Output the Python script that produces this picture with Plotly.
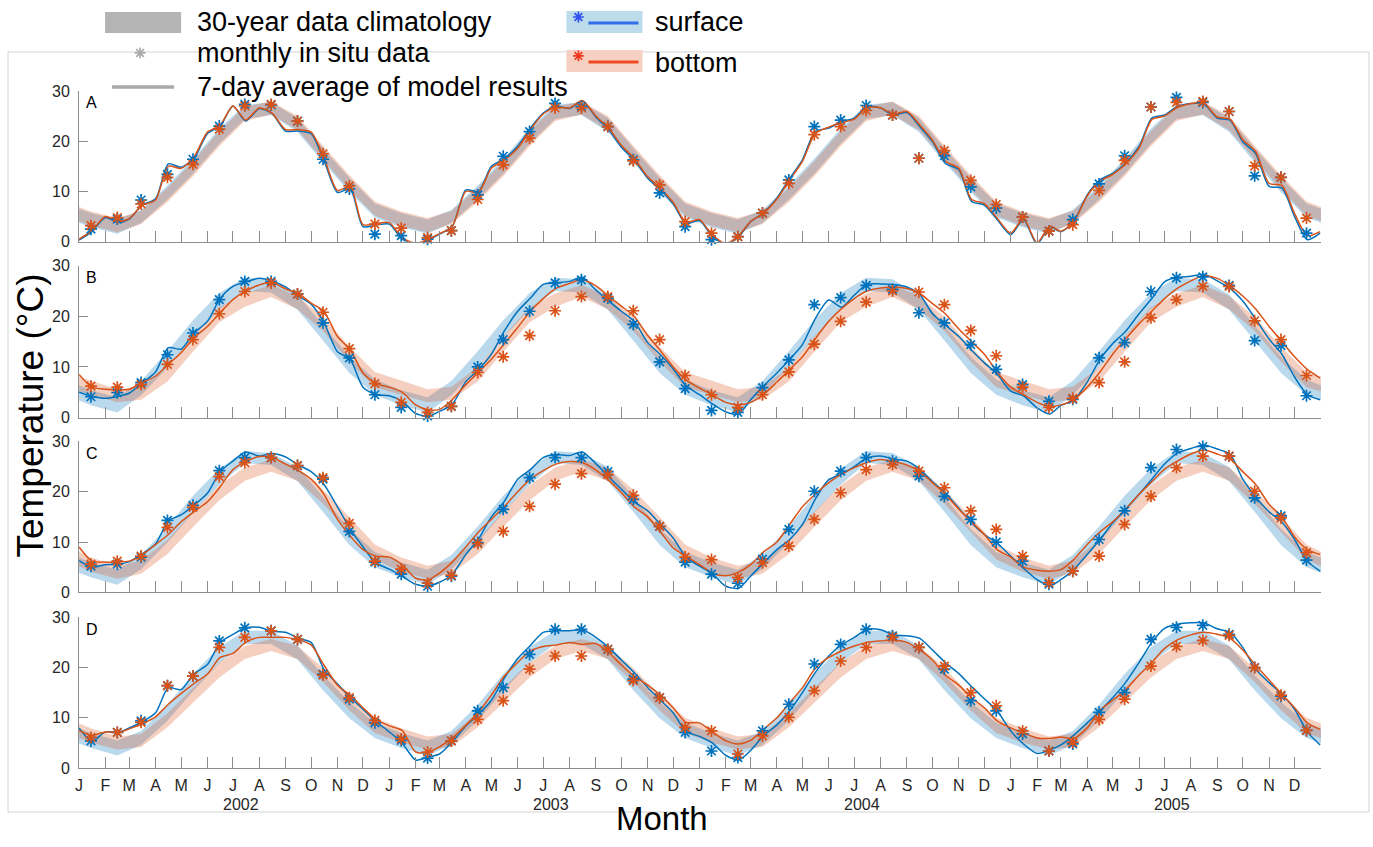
import pandas as pd
import plotly.graph_objects as go

W, H = 1373, 847

# ---------------- data ----------------
# 7-day averaged model results, sampled on the 1st and 16th of each month (2002-2005) + 31 Dec 2005
A_surf = [0.3, 2.0, 4.8, 3.8, 4.5, 7.3, 8.5, 15.5, 14.8, 16.5, 21.5, 23.0, 27.0, 24.0, 26.5, 25.5, 22.0, 22.0, 21.5, 16.2, 9.8, 10.5, 3.0, 3.3,
          3.5, 0.5, -0.5, 0.3, 1.5, 3.0, 10.3, 10.0, 15.0, 16.5, 19.0, 22.6, 25.6, 27.0, 26.5, 28.0, 24.8, 22.3, 18.8, 16.3, 12.6, 10.3, 7.5, 3.6,
          4.2, 1.0, -0.5, 1.0, 4.0, 5.7, 8.7, 12.6, 16.3, 21.9, 22.6, 23.9, 24.6, 26.9, 26.6, 25.2, 25.7, 22.9, 19.9, 15.6, 14.3, 8.0, 7.3, 4.4,
          1.4, 4.4, -0.5, 3.0, 2.0, 4.0, 9.3, 12.3, 13.6, 15.6, 18.9, 24.6, 25.2, 26.9, 27.5, 27.5, 24.6, 24.2, 19.9, 17.6, 11.0, 10.7, 5.0, 0.4, 1.7]
A_bot = [0.5, 2.2, 5.0, 4.0, 4.6, 7.2, 8.3, 15.0, 14.6, 16.8, 21.8, 23.2, 27.0, 24.2, 26.6, 25.6, 22.3, 22.3, 21.8, 16.8, 10.2, 11.0, 3.4, 3.6,
         3.8, 0.8, -0.3, 0.5, 1.6, 3.0, 10.0, 9.8, 14.6, 16.2, 18.6, 22.3, 25.4, 26.8, 26.6, 28.1, 25.0, 22.6, 19.2, 16.6, 12.9, 10.6, 7.8, 3.9,
         4.4, 1.3, -0.3, 1.2, 4.0, 5.6, 8.5, 12.3, 16.0, 21.5, 22.8, 23.7, 24.4, 26.7, 26.6, 25.4, 25.9, 23.2, 20.2, 16.0, 14.6, 8.4, 7.6, 4.7,
         1.7, 4.6, -0.2, 3.1, 2.1, 3.9, 9.1, 12.0, 13.4, 15.4, 18.6, 24.3, 25.0, 26.7, 27.5, 27.6, 24.8, 24.4, 20.3, 18.0, 11.6, 11.2, 5.6, 1.2, 2.0]
B_surf = [5.0, 4.2, 3.8, 4.2, 4.8, 6.8, 9.0, 13.8, 13.5, 16.7, 19.0, 23.5, 25.9, 26.8, 27.5, 27.0, 25.8, 24.0, 22.4, 18.8, 13.0, 11.5, 6.0, 4.5,
          4.3, 3.2, 0.8, 0.3, 1.2, 2.6, 7.1, 9.5, 12.5, 17.0, 21.0, 23.6, 26.3, 26.6, 26.9, 27.7, 25.2, 23.0, 21.0, 19.0, 14.8, 12.4, 9.6, 6.3,
          4.5, 2.7, 1.1, 0.7, 3.5, 6.2, 8.8, 11.5, 14.4, 19.5, 23.2, 21.8, 24.2, 26.3, 26.4, 26.3, 25.8, 24.3, 20.5, 18.3, 16.0, 13.3, 10.8, 8.6,
          5.2, 4.3, 1.9, 0.7, 2.4, 3.4, 7.0, 11.5, 14.6, 17.0, 20.5, 23.5, 26.8, 27.7, 27.9, 28.3, 27.0, 25.5, 23.0, 19.5, 15.5, 12.5, 8.0, 4.5, 3.5]
B_bot = [8.5, 6.0, 5.6, 5.5, 5.6, 6.8, 8.2, 10.5, 12.8, 15.7, 18.0, 20.7, 23.3, 25.0, 26.2, 26.7, 25.4, 24.5, 22.6, 21.0, 16.0, 13.4, 8.8, 6.7,
         6.0, 5.0, 2.5, 1.5, 1.6, 3.5, 6.5, 9.0, 11.5, 14.5, 17.8, 21.0, 23.5, 25.5, 26.5, 27.2, 26.0, 24.0, 22.0, 20.0, 16.2, 13.2, 10.0, 7.5,
         5.8, 4.5, 3.0, 2.5, 3.0, 4.5, 7.0, 9.5, 12.0, 15.5, 19.0, 21.5, 23.5, 25.0, 25.6, 25.8, 25.5, 24.5, 22.5, 20.5, 17.5, 15.0, 12.5, 9.0,
         6.0, 4.5, 3.0, 2.2, 2.5, 3.5, 6.0, 9.0, 12.5, 15.5, 18.5, 21.0, 23.5, 25.5, 27.0, 28.0, 27.5, 26.0, 24.0, 21.5, 18.0, 15.0, 12.0, 9.5, 7.8]
C_surf = [6.3, 5.0, 5.5, 5.6, 6.1, 7.6, 9.6, 14.2, 15.4, 17.3, 19.7, 24.0, 26.1, 27.9, 27.1, 27.6, 26.9, 25.3, 24.0, 21.5, 17.0, 12.6, 9.0, 5.9,
          4.6, 3.2, 1.6, 1.3, 2.0, 3.6, 7.5, 10.6, 15.0, 18.0, 22.5, 24.4, 26.8, 27.4, 27.2, 27.9, 25.6, 23.0, 20.5, 18.0, 16.2, 13.5, 10.8, 7.0,
          5.2, 3.7, 1.2, 0.8, 3.2, 5.8, 8.5, 10.5, 13.5, 18.5, 22.4, 23.5, 25.0, 26.7, 27.1, 26.5, 26.1, 24.5, 22.0, 19.8, 16.7, 13.8, 11.5, 9.8,
          7.2, 4.8, 2.5, 1.3, 2.5, 4.5, 7.5, 10.5, 13.8, 16.5, 19.5, 22.5, 25.5, 27.7, 28.6, 29.3, 28.5, 27.5, 22.5, 19.0, 16.0, 14.0, 10.5, 6.2, 4.2]
C_bot = [9.0, 6.2, 6.0, 6.0, 6.2, 7.4, 9.5, 11.5, 14.0, 16.0, 18.0, 21.0, 24.4, 26.0, 27.0, 26.8, 25.5, 24.2, 22.5, 19.5, 14.5, 11.2, 8.5, 7.2,
         7.0, 5.5, 2.8, 2.5, 3.8, 6.0, 9.0, 12.0, 14.5, 17.0, 20.0, 22.5, 24.2, 25.5, 26.0, 25.8, 24.3, 22.3, 19.8, 17.0, 15.0, 12.0, 8.8, 7.2,
         5.5, 3.8, 3.3, 4.0, 5.5, 8.0, 10.0, 13.5, 17.0, 19.5, 21.8, 23.5, 24.8, 25.8, 26.4, 26.0, 25.3, 24.0, 21.8, 19.5, 16.5, 14.0, 11.5, 8.5,
         7.0, 5.0, 4.4, 4.2, 4.5, 6.5, 9.5, 12.0, 14.0, 16.5, 19.5, 22.0, 24.5, 26.1, 27.5, 28.3, 27.5, 26.5, 24.0, 21.5, 17.5, 15.0, 11.0, 8.5, 7.5]
D_surf = [8.0, 5.3, 7.2, 7.1, 8.0, 9.2, 11.0, 16.0, 15.6, 18.7, 20.6, 25.0, 26.6, 27.9, 28.0, 27.2, 27.0, 25.8, 25.0, 19.7, 16.7, 14.1, 11.7, 9.3,
          7.2, 5.0, 1.6, 2.2, 2.8, 5.2, 8.4, 10.7, 13.5, 17.8, 21.8, 24.4, 27.0, 27.3, 27.3, 27.5, 26.0, 24.0, 21.5, 19.0, 16.0, 13.5, 11.0, 7.3,
          6.3, 5.0, 2.5, 1.6, 3.5, 6.4, 8.6, 11.4, 15.0, 19.0, 22.3, 24.5, 26.0, 27.6, 27.5, 26.5, 26.3, 25.8, 23.5, 21.0, 18.8, 16.2, 13.8, 11.4,
          7.4, 4.8, 2.9, 3.6, 4.6, 6.5, 9.0, 11.4, 14.0, 17.0, 21.0, 25.0, 27.8, 28.6, 28.9, 28.9, 27.7, 27.0, 24.0, 19.7, 17.0, 14.7, 11.7, 7.2, 4.6]
D_bot = [7.5, 6.5, 7.2, 7.1, 7.8, 8.8, 10.2, 12.7, 14.8, 16.8, 18.7, 22.0, 22.8, 25.0, 26.0, 26.0, 26.0, 25.5, 24.5, 20.5, 16.5, 14.5, 12.0, 9.7,
         8.4, 7.5, 3.2, 3.2, 4.2, 6.0, 8.5, 11.2, 14.5, 18.2, 21.0, 23.3, 24.2, 24.5, 25.0, 24.6, 24.8, 23.0, 20.5, 18.3, 16.5, 14.5, 12.0, 9.1,
         9.0, 7.2, 5.4, 4.8, 5.5, 7.7, 10.0, 13.0, 16.0, 19.8, 22.0, 23.3, 24.3, 25.0, 25.3, 25.5, 25.0, 23.5, 21.5, 18.5, 16.5, 14.0, 12.0, 9.4,
         8.0, 7.0, 6.0, 5.9, 6.2, 5.9, 8.0, 11.5, 13.5, 15.5, 18.5, 21.0, 23.8, 25.5, 26.5, 27.0, 26.6, 25.8, 23.5, 20.5, 17.5, 14.7, 12.0, 9.0, 7.7]

# monthly in situ data (mid-month, Jan 2002 - Dec 2005)
A_surf_obs = [2.5, 4.5, 8.3, 13.4, 16.4, 23.0, 27.3, 27.2, 24.0, 16.4, 10.5, 1.5,
              1.2, 0.5, 2.2, 9.3, 17.0, 21.9, 27.5, 26.9, 22.9, 16.3, 9.7, 3.0,
              0.4, 1.0, 5.7, 12.3, 22.9, 24.2, 27.1, 25.2, 16.6, 17.1, 10.9, 6.7,
              4.9, 2.1, 4.4, 11.5, 17.1, 26.8, 28.7, 27.7, 25.9, 13.1, 12.8, 1.7]
A_bot_obs = [3.2, 4.8, 7.5, 12.8, 15.4, 22.4, 27.0, 27.3, 24.0, 17.5, 11.1, 3.5,
             2.7, 0.8, 2.2, 8.4, 15.3, 20.6, 26.6, 26.6, 22.9, 16.1, 11.3, 4.0,
             1.7, 1.0, 5.7, 11.6, 21.3, 22.9, 26.1, 25.2, 16.6, 18.1, 12.2, 7.4,
             4.9, 2.1, 3.4, 10.2, 16.2, 26.8, 27.7, 27.9, 25.9, 15.1, 12.8, 4.7]
B_surf_obs = [4.1, 4.9, 6.9, 12.4, 16.7, 23.3, 26.9, 26.9, 24.4, 18.7, 11.8, 4.5,
              2.0, 0.3, 2.2, 10.0, 15.4, 21.0, 26.6, 27.2, 23.6, 18.4, 11.0, 5.7,
              1.4, 1.0, 5.9, 11.4, 22.3, 23.7, 26.1, 25.3, 20.7, 18.7, 14.4, 9.5,
              6.5, 3.2, 3.6, 11.8, 14.8, 24.9, 27.6, 27.8, 26.1, 15.2, 14.2, 4.3]
B_bot_obs = [6.2, 6.0, 6.5, 10.5, 15.4, 20.5, 24.9, 26.6, 24.4, 20.8, 13.6, 6.7,
             3.0, 1.0, 2.2, 8.9, 12.0, 16.2, 21.1, 23.9, 23.9, 21.1, 15.4, 8.3,
             4.5, 2.0, 4.5, 9.0, 14.5, 19.0, 22.8, 25.0, 24.8, 22.3, 17.2, 12.2,
             6.0, 2.0, 3.8, 6.9, 11.0, 19.7, 23.3, 25.9, 25.9, 19.1, 15.4, 8.3]
C_surf_obs = [5.2, 5.6, 7.0, 14.3, 17.3, 24.2, 26.8, 26.8, 25.2, 22.5, 12.1, 6.0,
              3.6, 1.2, 3.2, 9.9, 16.5, 22.8, 26.8, 26.8, 24.0, 18.5, 13.1, 6.0,
              3.6, 1.8, 6.6, 12.5, 20.1, 24.1, 26.8, 26.1, 23.1, 19.1, 14.5, 10.0,
              6.2, 1.6, 4.2, 10.5, 16.2, 24.8, 28.4, 29.0, 27.1, 18.8, 15.2, 6.4]
C_bot_obs = [5.6, 6.2, 7.2, 12.9, 16.9, 23.0, 25.8, 26.8, 25.2, 22.8, 13.7, 6.2,
             4.6, 1.8, 3.4, 9.7, 12.1, 17.1, 21.5, 23.6, 23.4, 19.3, 13.1, 7.0,
             6.5, 2.9, 5.9, 9.2, 14.5, 19.8, 24.4, 25.4, 24.1, 20.8, 16.2, 12.5,
             7.2, 1.9, 4.2, 7.2, 13.5, 19.1, 24.8, 27.1, 27.1, 20.1, 14.8, 7.9]
D_surf_obs = [5.4, 7.1, 9.4, 16.4, 18.3, 25.3, 27.9, 27.3, 25.6, 18.7, 13.7, 9.0,
              5.5, 2.0, 5.4, 11.4, 16.0, 22.6, 27.6, 27.6, 23.6, 17.7, 14.0, 7.1,
              3.4, 2.1, 7.4, 12.7, 20.7, 24.6, 27.6, 26.3, 24.0, 19.7, 13.4, 11.4,
              6.8, 3.4, 4.8, 11.1, 15.0, 25.6, 28.0, 28.4, 26.6, 20.0, 14.3, 7.5]
D_bot_obs = [6.1, 7.1, 9.1, 16.4, 18.3, 24.0, 26.0, 27.3, 25.6, 18.5, 14.0, 9.5,
             5.8, 3.2, 5.4, 9.7, 13.4, 19.7, 22.3, 22.3, 23.6, 17.4, 14.0, 8.1,
             7.4, 2.8, 6.4, 10.1, 15.4, 21.3, 24.0, 26.0, 24.0, 20.3, 15.0, 12.4,
             7.4, 3.4, 5.1, 9.7, 13.7, 20.3, 24.2, 25.4, 26.4, 20.0, 14.5, 7.5]

# 30-year climatology: monthly mean and spread (Jan..Dec)
A_clim_surf = [4.3, 3.0, 5.0, 9.8, 15.0, 21.0, 25.8, 26.5, 23.2, 17.2, 11.3, 6.2]
A_clim_surf_sd = [1.4, 1.4, 1.3, 1.4, 1.5, 1.5, 1.4, 1.3, 1.4, 1.4, 1.4, 1.4]
A_clim_bot = [4.6, 3.3, 4.8, 9.3, 14.5, 20.5, 25.4, 26.6, 23.6, 17.7, 11.8, 6.6]
A_clim_bot_sd = [1.4, 1.4, 1.3, 1.4, 1.5, 1.5, 1.4, 1.3, 1.4, 1.4, 1.4, 1.4]
B_clim_surf = [3.9, 2.5, 5.8, 11.5, 17.5, 23.0, 26.3, 26.0, 22.8, 16.7, 10.4, 6.0]
B_clim_surf_sd = [1.5, 1.5, 1.4, 1.6, 1.7, 1.6, 1.3, 1.3, 1.5, 1.5, 1.6, 1.5]
B_clim_bot = [5.9, 4.3, 4.8, 8.5, 14.5, 20.3, 23.2, 25.0, 22.7, 18.5, 12.5, 7.5]
B_clim_bot_sd = [1.4, 1.3, 1.3, 1.4, 1.5, 1.5, 1.3, 1.2, 1.3, 1.4, 1.5, 1.5]
C_clim_surf = [4.5, 3.0, 6.0, 11.5, 17.5, 23.0, 26.9, 26.5, 23.5, 17.5, 11.0, 6.5]
C_clim_surf_sd = [1.5, 1.5, 1.4, 1.6, 1.7, 1.6, 1.2, 1.2, 1.4, 1.5, 1.6, 1.5]
C_clim_bot = [5.5, 4.0, 5.0, 9.0, 14.5, 19.8, 23.5, 25.2, 23.5, 19.0, 13.5, 8.0]
C_clim_bot_sd = [1.4, 1.3, 1.3, 1.4, 1.5, 1.5, 1.3, 1.2, 1.3, 1.4, 1.5, 1.5]
D_clim_surf = [5.5, 4.0, 6.0, 11.0, 17.0, 22.5, 26.0, 26.0, 23.0, 17.0, 11.5, 7.5]
D_clim_surf_sd = [1.5, 1.5, 1.4, 1.6, 1.7, 1.6, 1.3, 1.3, 1.4, 1.5, 1.6, 1.5]
D_clim_bot = [6.5, 5.0, 5.5, 9.5, 14.5, 19.5, 23.0, 24.5, 23.0, 18.5, 13.0, 8.5]
D_clim_bot_sd = [1.4, 1.3, 1.3, 1.4, 1.5, 1.5, 1.3, 1.2, 1.3, 1.4, 1.5, 1.5]

panel_labels = ['A', 'B', 'C', 'D']
month_letters = ['J', 'F', 'M', 'A', 'M', 'J', 'J', 'A', 'S', 'O', 'N', 'D']
years = [2002, 2003, 2004, 2005]
y_ticks = [0, 10, 20, 30]

# ---------------- dates ----------------
month_starts = list(pd.date_range('2002-01-01', '2005-12-01', freq='MS'))
line_dates = []
for m in month_starts:
    line_dates += [m, m + pd.Timedelta(days=15)]
line_dates.append(pd.Timestamp('2005-12-31'))
obs_dates = [m + pd.Timedelta(days=14) for m in month_starts]
clim_dates = [m + pd.Timedelta(days=14) for m in pd.date_range('2001-12-01', '2006-01-01', freq='MS')]

panels = [
    (A_surf, A_bot, A_surf_obs, A_bot_obs, A_clim_surf, A_clim_surf_sd, A_clim_bot, A_clim_bot_sd),
    (B_surf, B_bot, B_surf_obs, B_bot_obs, B_clim_surf, B_clim_surf_sd, B_clim_bot, B_clim_bot_sd),
    (C_surf, C_bot, C_surf_obs, C_bot_obs, C_clim_surf, C_clim_surf_sd, C_clim_bot, C_clim_bot_sd),
    (D_surf, D_bot, D_surf_obs, D_bot_obs, D_clim_surf, D_clim_surf_sd, D_clim_bot, D_clim_bot_sd),
]
for p in panels:
    assert len(p[0]) == len(line_dates) and len(p[1]) == len(line_dates)
    assert len(p[2]) == 48 and len(p[3]) == 48

# ---------------- style ----------------
BLUE = '#0072BD'
ORANGE = '#D95319'
BLUE_BAND = 'rgba(0,114,189,0.27)'
ORANGE_BAND = 'rgba(217,83,25,0.27)'
AX = '#8c8c8c'
TXT = '#262626'
FONT = 'Liberation Sans, Arial, Helvetica, sans-serif'

# the page shows the figure offset and slightly squeezed; map target pixels to paper coords
OX, SX = 4.0, 1368.0   # rendered x = OX + SX * paper_x
OY, SY = 8.0, 831.0    # rendered y = OY + SY * (1 - paper_y)


def px_x(x):
    return (x - OX) / SX


def px_y(y):
    return 1 - (y - OY) / SY


# pixel geometry of panels (top, bottom)
panel_px = [(91, 242), (266, 418), (442, 593), (618, 769)]
x_dom = [px_x(79), px_x(1320)]

fig = go.Figure()
layout = dict(width=W, height=H, margin=dict(l=0, r=0, t=0, b=0),
              paper_bgcolor='white', plot_bgcolor='rgba(0,0,0,0)', showlegend=False,
              font=dict(family=FONT, color=TXT))

annotations = []
shapes = []

for i, (surf, bot, sobs, bobs, cs, css, cb, cbs) in enumerate(panels):
    xa = 'x' if i == 0 else f'x{i+1}'
    ya = 'y' if i == 0 else f'y{i+1}'
    for mean, sd, col in [(cs, css, BLUE_BAND), (cb, cbs, ORANGE_BAND)]:
        up = [mean[d.month - 1] + sd[d.month - 1] for d in clim_dates]
        lo = [mean[d.month - 1] - sd[d.month - 1] for d in clim_dates]
        fig.add_trace(go.Scatter(x=clim_dates + clim_dates[::-1], y=up + lo[::-1],
                                 fill='toself', fillcolor=col, mode='lines',
                                 line=dict(width=0, color=col), hoverinfo='skip',
                                 xaxis=xa, yaxis=ya))
    for ys, col in [(surf, BLUE), (bot, ORANGE)]:
        fig.add_trace(go.Scatter(x=line_dates, y=ys, mode='lines',
                                 line=dict(color=col, width=1.5, shape='spline', smoothing=0.7),
                                 xaxis=xa, yaxis=ya))
    for ys, col in [(sobs, BLUE), (bobs, ORANGE)]:
        fig.add_trace(go.Scatter(x=obs_dates, y=ys, mode='markers', cliponaxis=False,
                                 marker=dict(symbol='asterisk-open', size=10, color=col,
                                             line=dict(color=col, width=1.7)),
                                 xaxis=xa, yaxis=ya))
    top, bottom = panel_px[i]
    xk = 'xaxis' if i == 0 else f'xaxis{i+1}'
    yk = 'yaxis' if i == 0 else f'yaxis{i+1}'
    layout[xk] = dict(domain=x_dom, anchor=ya, type='date',
                      range=['2002-01-01', '2006-01-01'],
                      tickmode='array', tickvals=month_starts, ticktext=month_letters * 4,
                      showticklabels=(i == 3), ticks='inside', ticklen=11,
                      tickcolor=AX, tickwidth=1, showline=True, linecolor=AX, linewidth=1,
                      showgrid=False, zeroline=False, fixedrange=True,
                      tickfont=dict(size=16, color=TXT, family=FONT), ticklabelstandoff=3)
    layout[yk] = dict(domain=[px_y(bottom), px_y(top)], anchor=xa, range=[0, 30],
                      tickmode='array', tickvals=y_ticks, ticks='inside', ticklen=9,
                      tickcolor=AX, tickwidth=1, showline=True, linecolor=AX, linewidth=1,
                      showgrid=False, zeroline=False, fixedrange=True,
                      tickfont=dict(size=16, color=TXT, family=FONT), ticklabelstandoff=5)
    annotations.append(dict(text=panel_labels[i], xref='paper', yref='paper',
                            x=px_x(84), y=px_y(top + 12), xanchor='left', yanchor='middle',
                            showarrow=False, font=dict(size=16, color='black', family=FONT)))

# year labels under bottom panel
for yr in years:
    annotations.append(dict(text=str(yr), xref='x4', yref='paper', x=f'{yr}-07-10',
                            y=px_y(805), xanchor='center', yanchor='middle', showarrow=False,
                            font=dict(size=16, color=TXT, family=FONT)))

# axis titles
annotations.append(dict(text='Temperature (°C)', xref='paper', yref='paper', x=px_x(30), y=px_y(416),
                        textangle=-90, showarrow=False, xanchor='center', yanchor='middle',
                        font=dict(size=37, color='black', family=FONT)))
annotations.append(dict(text='Month', xref='paper', yref='paper', x=px_x(662), y=px_y(819),
                        showarrow=False, xanchor='center', yanchor='middle',
                        font=dict(size=33, color='black', family=FONT)))

# overlay axis in (target) pixel units for the custom legend
layout['xaxis5'] = dict(domain=[0, 1], range=[OX, OX + SX], visible=False, fixedrange=True, anchor='y5')
layout['yaxis5'] = dict(domain=[0, 1], range=[OY + SY, OY], visible=False, fixedrange=True, anchor='x5')

# figure border
shapes.append(dict(type='rect', xref='x5', yref='y5', x0=8, x1=1368, y0=52, y1=813,
                   line=dict(color='#d4d4d4', width=1), fillcolor='rgba(0,0,0,0)', layer='below'))

LEG_BLUE = '#2f6ee8'
LEG_ORANGE = '#f04a23'
shapes += [
    dict(type='rect', xref='x5', yref='y5', x0=105, x1=181, y0=12, y1=33,
         fillcolor='rgb(180,180,180)', line=dict(width=0), layer='below'),
    dict(type='rect', xref='x5', yref='y5', x0=566, x1=642, y0=11, y1=33,
         fillcolor='rgb(188,220,236)', line=dict(width=0), layer='below'),
    dict(type='rect', xref='x5', yref='y5', x0=566, x1=642, y0=50, y1=72,
         fillcolor='rgb(246,208,194)', line=dict(width=0), layer='below'),
]

# legend lines & stars
fig.add_trace(go.Scatter(x=[112, 174], y=[87, 87], mode='lines', line=dict(color='rgb(170,170,170)', width=3.5),
                         xaxis='x5', yaxis='y5', hoverinfo='skip'))
fig.add_trace(go.Scatter(x=[588, 638], y=[23, 23], mode='lines', line=dict(color=LEG_BLUE, width=3),
                         xaxis='x5', yaxis='y5', hoverinfo='skip'))
fig.add_trace(go.Scatter(x=[588, 638], y=[62, 62], mode='lines', line=dict(color=LEG_ORANGE, width=3),
                         xaxis='x5', yaxis='y5', hoverinfo='skip'))
for sx, sy, sc in [(140, 53, 'rgb(170,170,170)'), (578, 17, '#3050f0'), (578, 56, '#f03a20')]:
    fig.add_trace(go.Scatter(x=[sx], y=[sy], mode='markers',
                             marker=dict(symbol='asterisk-open', size=9, color=sc, line=dict(color=sc, width=1.7)),
                             xaxis='x5', yaxis='y5', hoverinfo='skip'))

legend_text = [('30-year data climatology', 195, 22), ('monthly in situ data', 195, 53),
               ('7-day average of model results', 195, 87), ('surface', 653, 22), ('bottom', 653, 63)]
for t, x, y in legend_text:
    annotations.append(dict(text=t, xref='x5', yref='y5', x=x, y=y, xanchor='left', yanchor='middle',
                            showarrow=False, font=dict(size=27, color='black', family=FONT)))

layout['annotations'] = annotations
layout['shapes'] = shapes
fig.update_layout(**layout)
fig.write_html('out.html')
